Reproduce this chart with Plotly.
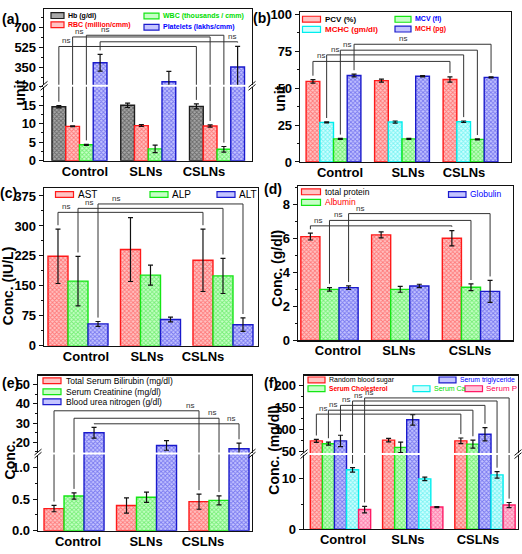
import plotly.graph_objects as go

W, H = 522, 554
FONT = "Liberation Sans, Arial, sans-serif"

cats = ["Control", "SLNs", "CSLNs"]

# ---------------- (a) haematology 1 ----------------
a_names = ["Hb (g/dl)", "RBC (million/cmm)", "WBC (thousands / cmm)", "Platelets (lakhs/cmm)"]
a_hb = [14.6, 15.0, 14.7]
a_hb_err = [0.3, 0.6, 0.7]
a_rbc = [9.3, 9.5, 9.4]
a_rbc_err = [0.1, 0.25, 0.3]
a_wbc = [4.3, 3.2, 3.1]
a_wbc_err = [0.15, 1.0, 0.75]
a_plt = [393, 227, 355]
a_plt_err = [73, 91, 180]

# ---------------- (b) haematology 2 ----------------
b_names = ["PCV (%)", "MCHC (gm/dl)", "MCV (fl)", "MCH (pg)"]
b_pcv = [54.5, 55.0, 55.8]
b_pcv_err = [1.2, 1.0, 1.8]
b_mchc = [26.8, 27.0, 27.2]
b_mchc_err = [0.3, 0.7, 0.5]
b_mcv = [15.6, 15.6, 15.3]
b_mcv_err = [0.3, 0.3, 0.3]
b_mch = [58.5, 58.0, 57.2]
b_mch_err = [0.9, 0.4, 0.4]

# ---------------- (c) liver enzymes ----------------
c_names = ["AST", "ALP", "ALT"]
c_ast = [224, 241, 214]
c_ast_err = [68, 80, 78]
c_alp = [162, 177, 175]
c_alp_err = [62, 25, 44]
c_alt = [55, 66, 53]
c_alt_err = [6, 6, 17]

# ---------------- (d) proteins ----------------
d_names = ["total protein", "Albumin", "Globulin"]
d_tp = [6.1, 6.2, 6.0]
d_tp_err = [0.2, 0.18, 0.45]
d_alb = [3.0, 3.0, 3.12]
d_alb_err = [0.1, 0.17, 0.2]
d_glob = [3.1, 3.2, 2.88]
d_glob_err = [0.1, 0.1, 0.65]

# ---------------- (e) kidney ----------------
e_names = ["Total Serum Bilirubin (mg/dl)", "Serum Creatinine (mg/dl)", "Blood urea nitrogen (g/dl)"]
e_tsb = [0.35, 0.40, 0.46]
e_tsb_err = [0.05, 0.12, 0.12]
e_scr = [0.55, 0.53, 0.48]
e_scr_err = [0.05, 0.08, 0.07]
e_bun = [24.9, 18.3, 16.6]
e_bun_err = [2.8, 2.5, 2.9]

# ---------------- (f) metabolic ----------------
f_names = ["Random blood sugar", "Serum Cholesterol", "Serum triglyceride", "Serum Ca", "Serum P"]
f_rbs = [73.8, 75.5, 74.0]
f_rbs_err = [3.5, 4.0, 6.5]
f_chol = [67.5, 59.0, 66.5]
f_chol_err = [3.5, 12.0, 9.0]
f_tg = [73.8, 122.0, 89.0]
f_tg_err = [13.0, 12.0, 15.0]
f_ca = [11.8, 10.0, 10.8]
f_ca_err = [0.45, 0.35, 0.65]
f_p = [3.9, 4.4, 4.8]
f_p_err = [0.65, 0.1, 0.5]

STY = {
    'k': dict(line='#1e1e1e', fg='#2a2a2a', bg='#a8a8a8'),
    'r': dict(line='#ff1a1a', fg='#ff2a2a', bg='#ffc4c4'),
    'g': dict(line='#14e614', fg='#22dd22', bg='#c6ffc6'),
    'b': dict(line='#1a1acc', fg='#2a2ae0', bg='#c4c4ff'),
    'c': dict(line='#00eeee', fg='#22e6e6', bg='#d0ffff'),
    'm': dict(line='#ff1a66', fg='#ff3a80', bg='#ffc4da'),
}
TXT = {'k': '#000000', 'r': '#ff0000', 'g': '#00dd00', 'b': '#0000ff', 'm': '#ff0055'}

fig = go.Figure()
layout = dict(annotations=[], shapes=[])
counter = [0]


def px(x):
    return x / W


def py(y):
    return 1 - y / H


def new_axes():
    counter[0] += 1
    n = counter[0]
    s = '' if n == 1 else str(n)
    return 'xaxis' + s, 'yaxis' + s, 'x' + s, 'y' + s


def make_panel(xpx, subplots, xrange, series, width, tickpos, brackets, gap_px=3):
    """subplots listed bottom -> top: dict(ypx=(top,bottom), range=(lo,hi), tick0, dtick, fmt)"""
    n = len(series)
    refs = []
    multi = len(subplots) > 1
    for k, sp in enumerate(subplots):
        xa, ya, xr, yr = new_axes()
        refs.append((xr, yr, sp))
        xaxis = dict(domain=[px(xpx[0]), px(xpx[1])], range=list(xrange), anchor=yr,
                     showgrid=False, zeroline=False, showline=True, linecolor='#111',
                     linewidth=1.3, ticks='', fixedrange=True)
        if k == 0:
            xaxis.update(tickmode='array', tickvals=tickpos, ticktext=cats,
                         tickfont=dict(family=FONT, size=13, color='#000', weight='bold'),
                         side='bottom', mirror=not multi, ticklabelstandoff=-2)
        else:
            xaxis.update(side='top', showticklabels=False, mirror=False)
        yaxis = dict(domain=[py(sp['ypx'][1]), py(sp['ypx'][0])], range=list(sp['range']),
                     anchor=xr, showgrid=False, zeroline=False, showline=True, mirror=True,
                     linecolor='#111', linewidth=1.3, ticks='outside', ticklen=4, tickwidth=1,
                     tickcolor='#111', tick0=sp['tick0'], dtick=sp['dtick'],
                     tickfont=dict(family=FONT, size=13, color='#000', weight='bold'),
                     minor=dict(ticks='outside', ticklen=2, tickcolor='#111',
                                tick0=sp['tick0'], dtick=sp['dtick'] / 2),
                     fixedrange=True)
        if sp.get('fmt'):
            yaxis['tickformat'] = sp['fmt']
        layout[xa] = xaxis
        layout[ya] = yaxis
        xs = list(range(len(cats)))
        for i, (name, vals, errs, st) in enumerate(series):
            c = STY[st]
            fig.add_trace(go.Bar(
                x=xs, y=vals, width=width, offset=-n * width / 2 + i * width, name=name,
                marker=dict(color=c['bg'], line=dict(color=c['line'], width=1.4),
                            pattern=dict(shape='x', fgcolor=c['fg'], bgcolor=c['bg'],
                                         size=3, solidity=0.5)),
                error_y=dict(type='data', array=errs, color='#111', thickness=1.2, width=2.5),
                xaxis=xr, yaxis=yr, showlegend=False))

    def ppu(v):
        for sp in subplots:
            lo, hi = sp['range']
            if v <= hi:
                return (sp['ypx'][1] - sp['ypx'][0]) / (hi - lo)
        sp = subplots[-1]
        return (sp['ypx'][1] - sp['ypx'][0]) / (sp['range'][1] - sp['range'][0])

    for (i, level, nsx) in brackets:
        name, vals, errs, st = series[i]
        xc = -n * width / 2 + i * width + width / 2
        t1 = vals[0] + errs[0]
        t2 = vals[-1] + errs[-1]
        e1 = t1 + gap_px / ppu(t1)
        e2 = t2 + gap_px / ppu(t2)
        for xr, yr, sp in refs:
            fig.add_trace(go.Scatter(x=[0 + xc, 0 + xc, len(cats) - 1 + xc, len(cats) - 1 + xc],
                                     y=[e1, level, level, e2], mode='lines',
                                     line=dict(color='#333', width=1), hoverinfo='skip',
                                     xaxis=xr, yaxis=yr, showlegend=False))
        for xr, yr, sp in refs:
            if sp['range'][0] <= level <= sp['range'][1]:
                layout['annotations'].append(dict(
                    x=nsx, y=level, xref=xr, yref=yr, text='ns', showarrow=False,
                    yanchor='bottom', xanchor='center', yshift=-1,
                    font=dict(family=FONT, size=8, color='#333')))
    # break marks
    if multi:
        yb = (subplots[0]['ypx'][0] + subplots[1]['ypx'][1]) / 2
        for xb in xpx:
            for dy in (-1.6, 1.6):
                layout['shapes'].append(dict(type='line', xref='paper', yref='paper',
                                             x0=px(xb - 3.5), y0=py(yb + dy + 3),
                                             x1=px(xb + 3.5), y1=py(yb + dy - 3),
                                             line=dict(color='#111', width=1)))


def legend(items):
    for (text, st, x0, x1, yc, tx, size, bold, tcolor) in items:
        c = STY[st]
        layout['shapes'].append(dict(type='rect', xref='paper', yref='paper',
                                     x0=px(x0), x1=px(x1), y0=py(yc + 3), y1=py(yc - 3),
                                     fillcolor=c['bg'], line=dict(color=c['line'], width=1.2)))
        layout['annotations'].append(dict(
            x=px(tx), y=py(yc), xref='paper', yref='paper', text=text, showarrow=False,
            xanchor='left', yanchor='middle',
            font=dict(family=FONT, size=size, color=tcolor, weight='bold' if bold else 'normal')))


def label(text, x, y, size, angle=0):
    layout['annotations'].append(dict(
        x=px(x), y=py(y), xref='paper', yref='paper', text=text, showarrow=False,
        xanchor='center', yanchor='middle', textangle=angle,
        font=dict(family=FONT, size=size, color='#000', weight='bold')))


# ---- (a)
make_panel((44, 252),
           [dict(ypx=(82, 158), range=(0, 20.0), tick0=0, dtick=5),
            dict(ypx=(2, 80), range=(200, 861), tick0=350, dtick=175)],
           (-0.516, 2.509),
           [(a_names[0], a_hb, a_hb_err, 'k'), (a_names[1], a_rbc, a_rbc_err, 'r'),
            (a_names[2], a_wbc, a_wbc_err, 'g'), (a_names[3], a_plt, a_plt_err, 'b')],
           0.2, [0.08, 0.967, 1.811],
           [(0, 534, -0.2), (1, 617, -0.003), (2, 632, 0.37), (3, 575, 2.222)], gap_px=4)
legend([(a_names[0], 'k', 51, 64, 8.8, 66, 7, True, TXT['k']),
        (a_names[1], 'r', 51, 64, 18.3, 66, 7, True, TXT['r']),
        (a_names[2], 'g', 144, 159, 9.2, 161, 7, True, TXT['g']),
        (a_names[3], 'b', 144, 159, 20.8, 161, 7, True, TXT['b'])])
label("unit", 20, 88, 14, -90)
label("(a)", 10, 12, 14)

# ---- (b)
make_panel((300, 511),
           [dict(ypx=(5, 159.3), range=(0, 101.5), tick0=0, dtick=25)],
           (-0.489, 2.591),
           [(b_names[0], b_pcv, b_pcv_err, 'r'), (b_names[1], b_mchc, b_mchc_err, 'c'),
            (b_names[2], b_mcv, b_mcv_err, 'g'), (b_names[3], b_mch, b_mch_err, 'b')],
           0.2, [0.095, 1.088, 1.905],
           [(0, 68, -0.187), (1, 72.4, 0.022), (2, 75.6, 0.193), (3, 79.6, 1.015)], gap_px=4)
legend([(b_names[0], 'r', 302.5, 320.5, 12.5, 323, 8, True, TXT['k']),
        (b_names[1], 'c', 302.5, 320.5, 23, 323, 8, True, TXT['r']),
        (b_names[2], 'g', 395, 411, 12.7, 413, 7, True, TXT['b']),
        (b_names[3], 'b', 395, 411, 22.7, 413, 7, True, TXT['r'])])
label("unit", 280, 94, 14, -90)
label("(b)", 262, 11, 14)

# ---- (c)
make_panel((44, 258),
           [dict(ypx=(186, 348.3), range=(0, 395), tick0=0, dtick=75)],
           (-0.469, 2.483),
           [(c_names[0], c_ast, c_ast_err, 'r'), (c_names[1], c_alp, c_alp_err, 'g'),
            (c_names[2], c_alt, c_alt_err, 'b')],
           0.276, [0.11, 0.952, 1.724],
           [(0, 334, -0.17), (1, 344, 0.152), (2, 355, 0.52)], gap_px=4)
legend([(c_names[0], 'r', 55.5, 73.5, 192.7, 76, 10, False, TXT['k']),
        (c_names[1], 'g', 150, 168, 192.7, 170, 10, False, TXT['k']),
        (c_names[2], 'b', 217, 235, 192.7, 237, 10, False, TXT['k'])])
label("Conc. (IU/L)", 8, 287, 14, -90)
label("(c)", 8, 191, 14)

# ---- (d)
make_panel((298, 513),
           [dict(ypx=(184, 342.7), range=(0, 9.07), tick0=0, dtick=2)],
           (-0.445, 2.594),
           [(d_names[0], d_tp, d_tp_err, 'r'), (d_names[1], d_alb, d_alb_err, 'g'),
            (d_names[2], d_glob, d_glob_err, 'b')],
           0.27, [0.12, 0.982, 1.986],
           [(0, 6.73, -0.163), (1, 7.05, 0.12), (2, 7.45, 0.43)], gap_px=4)
legend([(d_names[0], 'r', 301.5, 320.5, 190, 322.5, 8.5, False, TXT['k']),
        (d_names[1], 'g', 301.5, 320.5, 200.8, 322.5, 8.5, False, TXT['r']),
        (d_names[2], 'b', 448.5, 466, 192.7, 468, 8.5, False, TXT['b'])])
label("Conc. (g/dl)", 277, 269, 14, -90)
label("(d)", 273, 187, 14)

# ---- (e)
make_panel((38, 252),
           [dict(ypx=(460, 538.3), range=(0, 1.205), tick0=0, dtick=0.5, fmt='.1f'),
            dict(ypx=(379, 458), range=(14.57, 54.7), tick0=20, dtick=10)],
           (-0.497, 2.455),
           [(e_names[0], e_tsb, e_tsb_err, 'r'), (e_names[1], e_scr, e_scr_err, 'g'),
            (e_names[2], e_bun, e_bun_err, 'b')],
           0.276, [0.055, 0.993, 1.779],
           [(0, 36.4, 1.596), (1, 32.5, 1.908), (2, 29.6, 2.161)], gap_px=4)
legend([(e_names[0], 'r', 43, 61, 384.2, 64, 8.5, False, TXT['k']),
        (e_names[1], 'g', 43, 61, 395.5, 64, 8.5, False, TXT['k']),
        (e_names[2], 'b', 43, 61, 405.7, 64, 8.5, False, TXT['k'])])
label("Conc.", 10, 466, 14, -90)
label("(e)", 10, 386, 14)

# ---- (f)
make_panel((304, 518),
           [dict(ypx=(460.5, 536.7), range=(0, 14.74), tick0=0, dtick=10),
            dict(ypx=(379, 458.5), range=(46.0, 222.7), tick0=50, dtick=50)],
           (-0.505, 2.457),
           [(f_names[0], f_rbs, f_rbs_err, 'r'), (f_names[1], f_chol, f_chol_err, 'g'),
            (f_names[2], f_tg, f_tg_err, 'b'), (f_names[3], f_ca, f_ca_err, 'c'),
            (f_names[4], f_p, f_p_err, 'm')],
           0.167, [0.035, 0.934, 1.903],
           [(0, 135, -0.246), (1, 144, -0.1), (2, 155, 0.072), (3, 165, 0.246), (4, 172, 0.4)],
           gap_px=4)
legend([(f_names[0], 'r', 308, 325, 383.3, 327, 7, False, TXT['k']),
        (f_names[1], 'g', 308, 325, 392.3, 327, 6.6, True, TXT['r']),
        (f_names[2], 'b', 439, 456, 383.3, 458, 6.8, False, TXT['b']),
        (f_names[3], 'c', 413, 430, 392.3, 431.5, 7, False, TXT['g']),
        (f_names[4], 'm', 465, 482.5, 392.3, 484, 8, False, TXT['m'])])
label("Conc. (mg/dl)", 274, 456, 14, -90)
label("(f)", 271, 386, 14)

fig.update_layout(**layout)
fig.update_layout(width=W, height=H, margin=dict(l=0, r=0, t=0, b=0),
                  paper_bgcolor='white', plot_bgcolor='white', barmode='overlay',
                  showlegend=False, font=dict(family=FONT), hovermode=False)
fig.write_html("out.html", config={'displayModeBar': False, 'staticPlot': True},
               post_script="document.body.style.margin='0px';document.body.style.overflow='hidden';")
